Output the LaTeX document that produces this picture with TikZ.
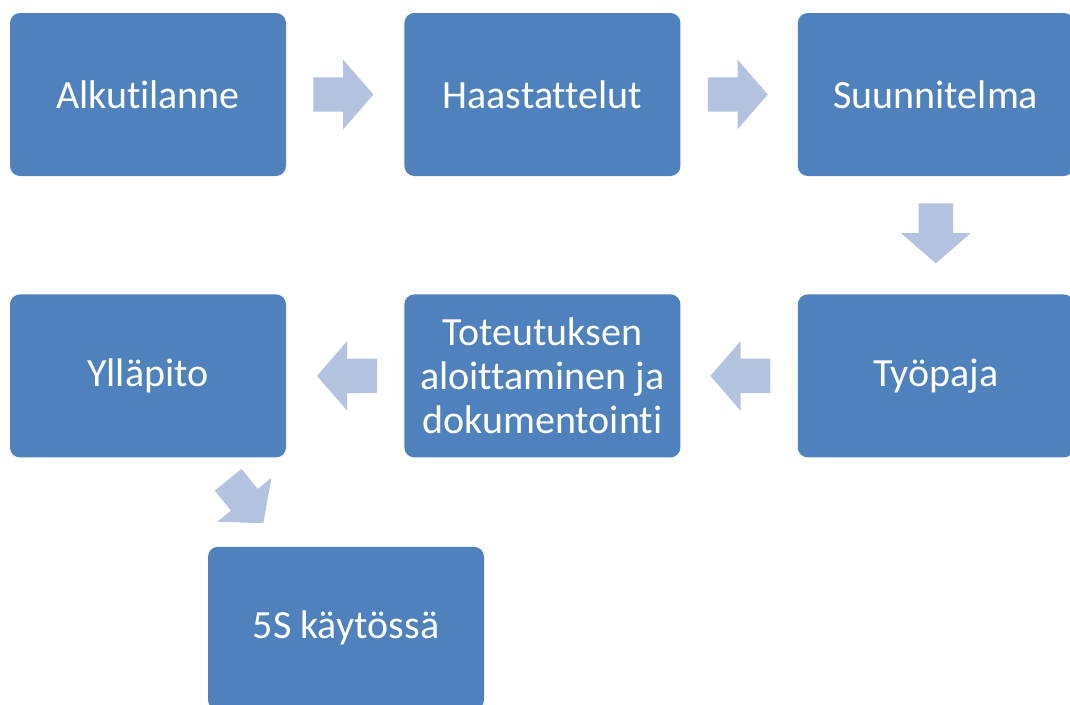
\documentclass[tikz,border=0pt]{standalone}
\usepackage{fontspec}
\setmainfont[Ligatures=NoCommon]{Carlito}
\usepackage{tikz}
\usetikzlibrary{positioning,calc,shapes.arrows}

\definecolor{boxblue}{HTML}{4F81BD}
\definecolor{arrowblue}{HTML}{B3C2DE}

\begin{document}
\begin{tikzpicture}[x=1pt,y=1pt,
	flowbox/.style={fill=boxblue, rounded corners=10pt, minimum width=276pt, minimum height=163pt,
		text=white, align=center, inner sep=0pt, font=\fontsize{40}{44}\selectfont},
	flowarrow/.style={single arrow, fill=arrowblue, inner xsep=0pt, inner ysep=17pt, anchor=tail,
		minimum height=60pt, single arrow head extend=17.5pt, single arrow tip angle=98}]

	\useasboundingbox (0,0) rectangle (1070,-704);

	\node[flowbox] (alku) at (148,-94.5) {Alkutilanne};
	\node[flowbox, right=118pt of alku] (haast) {Haastattelut};
	\node[flowbox, right=117pt of haast] (suunn) {Suunnitelma};
	\node[flowbox, below=118pt of suunn] (tyopaja) {Työpaja};
	\node[flowbox, left=117pt of tyopaja] (toteutus) {Toteutuksen\\aloittaminen ja\\dokumentointi};
	\node[flowbox, left=118pt of toteutus] (yllapito) {Ylläpito};
	\node[flowbox, below=89pt of yllapito, xshift=198pt] (kaytossa) {5S käytössä};

	\node[flowarrow] (a1) at ($(alku.east)+(27,0)$) {};
	\node[flowarrow] (a2) at ($(haast.east)+(27,0)$) {};
	\node[flowarrow, rotate=-90] (a3) at ($(suunn.south)+(0,-27)$) {};
	\node[flowarrow, rotate=180] (a4) at ($(tyopaja.west)+(-27,0)$) {};
	\node[flowarrow, rotate=180] (a5) at ($(toteutus.west)+(-27,0)$) {};
	\node[flowarrow, rotate=-51, minimum height=56pt] (a6) at ($(yllapito.south)+(80,-22)$) {};

\end{tikzpicture}
\end{document}
